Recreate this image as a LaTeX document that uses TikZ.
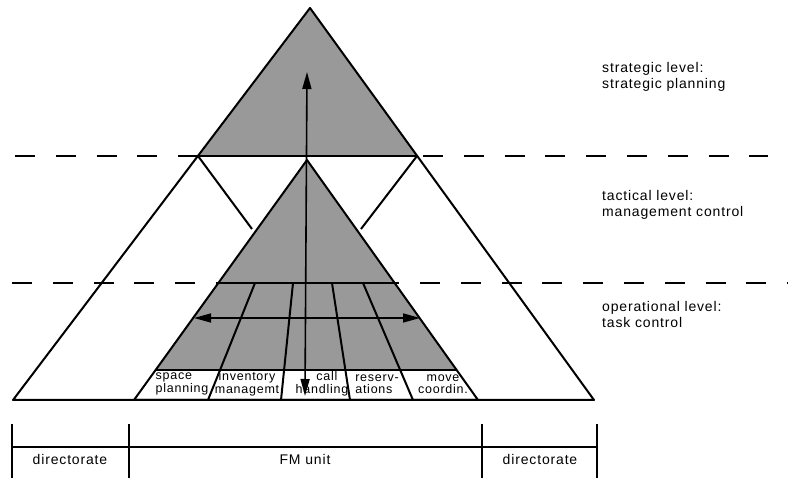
\documentclass[tikz,border=0pt]{standalone}
\usepackage{fontspec}
\setmainfont{Liberation Sans}[LetterSpace=6]
\usetikzlibrary{arrows.meta}

\begin{document}
\begin{tikzpicture}[x=1pt, y=-1pt, >={Triangle[length=17pt,width=9pt]},
    every node/.style={inner sep=0pt},
    halftone/.style={fill=black!40},
    edge/.style={line width=2pt, line join=round},
    levelline/.style={line width=1.8pt, dash pattern=on 20pt off 20.8pt},
    flow/.style={line width=1.6pt, <->},
    unitline/.style={line width=1.2pt},
    leveltext/.style={anchor=north west, align=left, font=\fontsize{14}{16}\selectfont},
    boxtext/.style={align=center, font=\fontsize{12.5}{12.5}\selectfont},
    unittext/.style={anchor=base, font=\fontsize{14}{16}\selectfont}]

    \useasboundingbox (0,0) rectangle (788,478);

    % Outer pyramid corners
    \coordinate (apex) at (310,8);
    \coordinate (bl) at (13,400);
    \coordinate (br) at (594,400);
    \coordinate (sl) at (198,156);
    \coordinate (sr) at (417,156);

    % Inner pyramid corners
    \coordinate (iapex) at (307,160);
    \coordinate (il) at (134,400);
    \coordinate (ir) at (478,400);
    \coordinate (ml) at (218,283);
    \coordinate (mr) at (395,283);
    \coordinate (ll) at (156,370);
    \coordinate (lr) at (457,370);

    % Shaded parts
    \fill[halftone] (apex) -- (sl) -- (sr) -- cycle;
    \fill[halftone] (iapex) -- (ll) -- (lr) -- cycle;

    % Level lines
    \draw[levelline] (15,156) -- (768,156);
    \draw[levelline] (12,283) -- (788,283);

    % Outer pyramid
    \draw[edge] (apex) -- (bl) -- (br) -- cycle;
    \draw[edge] (sl) -- (sr);
    \draw[edge] (sl) -- (252,229);
    \draw[edge] (sr) -- (361,229);

    % Inner pyramid and task fan
    \draw[edge] (iapex) -- (il) -- (ir) -- cycle;
    \draw[edge] (ml) -- (mr);
    \draw[edge] (ll) -- (lr);
    \foreach \a/\b in {255/208, 293/281, 332/350, 363/413}
        \draw[edge] (\a,283) -- (\b,400);

    % Arrows
    \coordinate (vtop) at (307,72);
    \coordinate (vbot) at (305,396);
    \coordinate (hl) at (194,318);
    \coordinate (hr) at (420,318);
    \draw[flow] (vbot) -- (vtop);
    \draw[flow] (hl) -- (hr);

    % Task labels
    \node[boxtext, align=left] (space) at (182,384) {space\\planning};
    \node[boxtext] (inv) at (247,384) {inventory\\managemt};
    \node[boxtext] (call) at (322,384) {\hspace*{10pt}call\\handling};
    \node[boxtext, align=left] (res) at (377,384) {reserv-\\ations};
    \node[boxtext] (move) at (443,384) {move\\coordin.};

    % Level labels
    \node[leveltext] (strat) at (602,62) {strategic level:\\strategic planning};
    \node[leveltext] (tact) at (602,190) {tactical level:\\management control};
    \node[leveltext] (oper) at (602,301) {operational level:\\task control};

    % Organisation row
    \draw[unitline] (12,447) -- (597,447);
    \foreach \x in {12,129,482,597}
        \draw[unitline] (\x,424) -- (\x,478);
    \node[unittext] (dirl) at (70,465) {directorate};
    \node[unittext] (fm) at (305,465) {FM unit};
    \node[unittext] (dirr) at (540,465) {directorate};
\end{tikzpicture}
\end{document}
